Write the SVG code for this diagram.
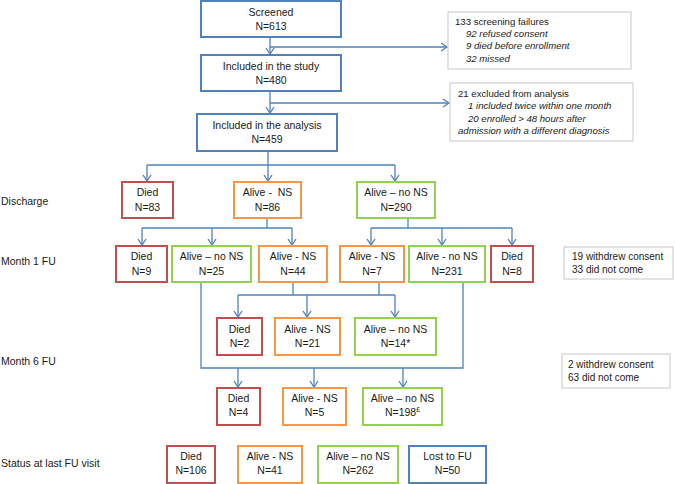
<svg xmlns="http://www.w3.org/2000/svg" width="675" height="484" viewBox="0 0 675 484">
<defs>
<marker id="ah" markerUnits="userSpaceOnUse" markerWidth="10" markerHeight="10" refX="7" refY="5" orient="auto" viewBox="0 0 10 10">
<path d="M1,1 L7,5 L1,9" fill="none" stroke="#4f81bd" stroke-width="1.3"/>
</marker>
<style>
text{font-family:"Liberation Sans",Arial,sans-serif;font-size:10.5px;fill:#1a1a1a}
.c{text-anchor:middle}
.n{font-size:9.6px}
.r{font-size:10px}
.i{font-style:italic}
rect{fill:#fff;stroke-width:2}
.b{stroke:#4f81bd}
.red{stroke:#c0504d}
.o{stroke:#f79646}
.g{stroke:#92d050}
.note{stroke:#c8c8c8;stroke-width:1}
.ln{fill:none;stroke:#4f81bd;stroke-width:1.3}
.ar{fill:none;stroke:#4f81bd;stroke-width:1.3;marker-end:url(#ah)}
.pre{white-space:pre}
</style>
</defs>
<rect width="675" height="484" style="fill:#fff;stroke:none"/>

<g id="connectors">
<path class="ar" d="M270,37 V54"/>
<path class="ar" d="M270,47 H447"/>
<path class="ar" d="M270,91 V113"/>
<path class="ar" d="M270,103 H449"/>
<path class="ln" d="M268,151 V165 M147,165 H395"/>
<path class="ar" d="M147,165 V181"/>
<path class="ar" d="M268,165 V181"/>
<path class="ar" d="M395,165 V181"/>
<path class="ln" d="M267,218 V228 M142,228 H292"/>
<path class="ar" d="M142,228 V245"/>
<path class="ar" d="M212,228 V245"/>
<path class="ar" d="M292,228 V245"/>
<path class="ln" d="M408,218 V228 M371,228 H512"/>
<path class="ar" d="M371,228 V245"/>
<path class="ar" d="M442,228 V245"/>
<path class="ar" d="M512,228 V245"/>
<path class="ln" d="M293,282 V295 M379,282 V295 M238,295 H395"/>
<path class="ar" d="M238,295 V317"/>
<path class="ar" d="M307,295 V317"/>
<path class="ar" d="M395,295 V317"/>
<path class="ln" d="M201,282 V368 H463 V282"/>
<path class="ar" d="M238,368 V387"/>
<path class="ar" d="M314,368 V387"/>
<path class="ar" d="M403,368 V387"/>
</g>

<g id="screened"><rect class="b" x="201" y="1" width="140" height="36"/>
<text class="c" x="271" y="16">Screened</text><text class="c" x="271" y="30">N=613</text></g>
<g id="included"><rect class="b" x="201" y="55" width="140" height="36"/>
<text class="c" x="271" y="70">Included in the study</text><text class="c" x="271" y="84">N=480</text></g>
<g id="analysis"><rect class="b" x="197" y="114" width="140" height="37"/>
<text class="c" x="267" y="129">Included in the analysis</text><text class="c" x="267" y="143">N=459</text></g>

<g id="failures"><rect class="note" x="448" y="12" width="183" height="57"/>
<text class="n" x="455" y="25">133 screening failures</text>
<text class="n i" x="466" y="37">92 refused consent</text>
<text class="n i" x="466" y="49">9 died before enrollment</text>
<text class="n i" x="466" y="62">32 missed</text></g>
<g id="excluded"><rect class="note" x="450" y="83" width="183" height="58"/>
<text class="n" x="458" y="97">21 excluded from analysis</text>
<text class="n i" x="468" y="109">1 included twice within one month</text>
<text class="n i" x="468" y="122">20 enrolled &gt; 48 hours after</text>
<text class="n i" x="458" y="134">admission with a different diagnosis</text></g>

<text x="1" y="205">Discharge</text>
<text x="1" y="265">Month 1 FU</text>
<text x="1" y="365">Month 6 FU</text>
<text x="1" y="467">Status at last FU visit</text>

<g id="d-died"><rect class="red" x="122" y="182" width="51" height="36"/>
<text class="c" x="147.5" y="196">Died</text><text class="c" x="147.5" y="210.5">N=83</text></g>
<g id="d-ns"><rect class="o" x="234" y="182" width="67" height="36"/>
<text class="c pre" x="267.5" y="196">Alive -  NS</text><text class="c" x="267.5" y="210.5">N=86</text></g>
<g id="d-nons"><rect class="g" x="357" y="182" width="78" height="36"/>
<text class="c" x="396" y="196">Alive – no NS</text><text class="c" x="396" y="210.5">N=290</text></g>

<g id="m1-died9"><rect class="red" x="116" y="246" width="51" height="36"/>
<text class="c" x="141.5" y="260">Died</text><text class="c" x="141.5" y="274.5">N=9</text></g>
<g id="m1-nons25"><rect class="g" x="172" y="246" width="79" height="36"/>
<text class="c" x="211.5" y="260">Alive – no NS</text><text class="c" x="211.5" y="274.5">N=25</text></g>
<g id="m1-ns44"><rect class="o" x="259" y="246" width="68" height="36"/>
<text class="c" x="293" y="260">Alive - NS</text><text class="c" x="293" y="274.5">N=44</text></g>
<g id="m1-ns7"><rect class="o" x="340" y="246" width="64" height="36"/>
<text class="c" x="372" y="260">Alive - NS</text><text class="c" x="372" y="274.5">N=7</text></g>
<g id="m1-nons231"><rect class="g" x="409" y="246" width="76" height="36"/>
<text class="c" x="447" y="260">Alive - no NS</text><text class="c" x="447" y="274.5">N=231</text></g>
<g id="m1-died8"><rect class="red" x="491" y="246" width="42" height="36"/>
<text class="c" x="512" y="260">Died</text><text class="c" x="512" y="274.5">N=8</text></g>
<g id="m1-note"><rect class="note" x="564" y="247" width="109" height="32"/>
<text class="r" x="572" y="260">19 withdrew consent</text><text class="r" x="572" y="273">33 did not come</text></g>

<g id="m6-died2"><rect class="red" x="217" y="318" width="45" height="37"/>
<text class="c" x="239.5" y="333">Died</text><text class="c" x="239.5" y="347">N=2</text></g>
<g id="m6-ns21"><rect class="o" x="275" y="318" width="65" height="37"/>
<text class="c" x="307.5" y="333">Alive - NS</text><text class="c" x="307.5" y="347">N=21</text></g>
<g id="m6-nons14"><rect class="g" x="355" y="318" width="81" height="37"/>
<text class="c" x="395.5" y="333">Alive – no NS</text><text class="c" x="395.5" y="347">N=14*</text></g>
<g id="m6-note"><rect class="note" x="562" y="354" width="108" height="34"/>
<text class="r" x="568" y="368">2 withdrew consent</text><text class="r" x="568" y="381">63 did not come</text></g>

<g id="m6-died4"><rect class="red" x="217" y="388" width="43" height="37"/>
<text class="c" x="238.5" y="402">Died</text><text class="c" x="238.5" y="416">N=4</text></g>
<g id="m6-ns5"><rect class="o" x="283" y="388" width="63" height="37"/>
<text class="c" x="314.5" y="402">Alive - NS</text><text class="c" x="314.5" y="416">N=5</text></g>
<g id="m6-nons198"><rect class="g" x="363" y="388" width="79" height="37"/>
<text class="c" x="402.5" y="402">Alive – no NS</text><text class="c" x="402.5" y="416">N=198<tspan font-size="7" dy="-4">£</tspan></text></g>

<g id="s-died"><rect class="red" x="167" y="446" width="48" height="37"/>
<text class="c" x="191" y="460">Died</text><text class="c" x="191" y="474">N=106</text></g>
<g id="s-ns"><rect class="o" x="238" y="446" width="64" height="37"/>
<text class="c" x="270" y="460">Alive - NS</text><text class="c" x="270" y="474">N=41</text></g>
<g id="s-nons"><rect class="g" x="318" y="446" width="80" height="37"/>
<text class="c" x="358" y="460">Alive – no NS</text><text class="c" x="358" y="474">N=262</text></g>
<g id="s-lost"><rect class="b" x="409" y="446" width="77" height="37"/>
<text class="c" x="447.5" y="460">Lost to FU</text><text class="c" x="447.5" y="474">N=50</text></g>
</svg>
